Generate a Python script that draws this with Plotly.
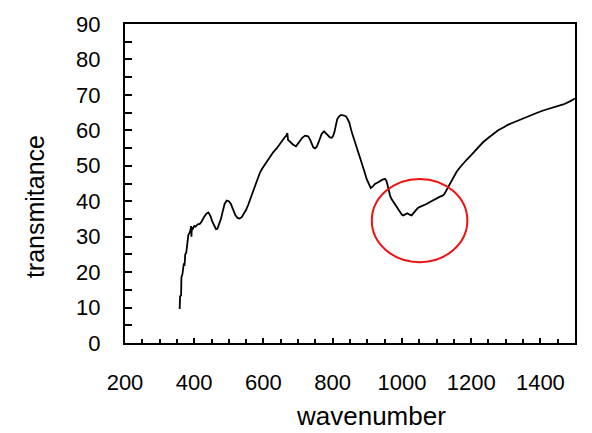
import plotly.graph_objects as go

wavenumber = [358, 359, 362, 363, 366, 370, 372, 374, 377, 380, 383, 386, 389, 391, 392, 393, 396, 400, 404, 410,
              416, 421, 428, 435, 441, 447, 452, 458, 463, 467, 472, 477, 482, 488, 494, 500, 506, 513, 519, 525,
              531, 537, 543, 550, 556, 563, 571, 580, 590, 597, 604, 611, 619, 628, 638, 646, 653, 658, 662, 666,
              669, 671, 677, 685, 694, 700, 705, 712, 720, 729, 735, 739, 744, 749, 754, 758, 763, 768, 775, 781,
              787, 792, 797, 801, 805, 809, 813, 818, 823, 828, 833, 838, 843, 848, 855, 862, 869, 876, 884, 891,
              898, 904, 910, 916, 922, 930, 937, 944, 951, 955, 958, 962, 966, 970, 975, 980, 985, 989, 995, 1000,
              1004, 1010, 1016, 1022, 1028, 1034, 1041, 1046, 1052, 1060, 1071, 1081, 1091, 1100, 1110, 1116, 1122, 1128, 1134, 1141,
              1148, 1158, 1168, 1178, 1187, 1200, 1211, 1223, 1235, 1250, 1264, 1278, 1293, 1307, 1322, 1336, 1351, 1370, 1389, 1408,
              1428, 1447, 1466, 1484, 1500]
transmitance = [9.6, 13.2, 13.4, 18.5, 19.5, 22.5, 21.8, 25.0, 25.5, 29.4, 30.5, 31.0, 31.8, 33.0, 30.0, 32.6, 32.2, 33.0, 32.8, 33.5,
                33.6, 34.2, 35.5, 36.5, 36.8, 35.8, 34.3, 32.8, 32.1, 32.2, 33.5, 35.0, 37.0, 39.3, 40.2, 40.0, 39.2, 37.6, 36.0, 35.3,
                35.1, 35.5, 36.4, 37.6, 39.0, 40.8, 43.0, 45.2, 48.1, 49.3, 50.4, 51.4, 52.6, 53.8, 54.9, 56.0, 57.1, 57.6, 58.1, 58.5,
                59.2, 57.3, 56.7, 56.0, 55.5, 56.3, 57.2, 57.9, 58.5, 58.3, 57.3, 56.3, 55.2, 54.9, 55.4, 56.3, 57.8, 59.0, 59.7, 59.1,
                58.5, 58.0, 57.9, 58.4, 59.5, 61.5, 63.1, 63.9, 64.3, 64.3, 64.2, 64.0, 63.2, 62.2, 59.5, 57.5, 55.4, 53.2, 50.8, 48.6,
                46.3, 44.8, 43.7, 44.2, 44.9, 45.3, 45.8, 46.1, 46.3, 45.8, 44.8, 43.0, 41.5, 40.6, 39.8, 39.0, 38.3, 37.6, 36.8, 36.2,
                36.0, 36.3, 36.6, 36.2, 36.0, 36.7, 37.6, 38.1, 38.4, 38.7, 39.2, 39.8, 40.4, 40.9, 41.3, 41.5, 41.9, 43.0, 44.0, 45.4,
                46.7, 48.3, 49.6, 50.8, 51.7, 53.0, 54.2, 55.5, 56.7, 57.9, 59.0, 60.0, 60.8, 61.6, 62.2, 62.8, 63.4, 64.2, 64.9, 65.6,
                66.2, 66.7, 67.3, 68.1, 69.0]

x_range = [200, 1500]
y_range = [0, 90]
x_tickvals = [200, 400, 600, 800, 1000, 1200, 1400]
y_tickvals = [0, 10, 20, 30, 40, 50, 60, 70, 80, 90]
highlight_x = [913, 1189]
highlight_y = [22.8, 46.3]

FONT = "Liberation Sans, Arial, sans-serif"

fig = go.Figure()
fig.add_trace(go.Scatter(x=wavenumber, y=transmitance, mode="lines",
                         line=dict(color="black", width=1.8), showlegend=False))

fig.add_shape(type="circle", xref="x", yref="y",
              x0=highlight_x[0], x1=highlight_x[1], y0=highlight_y[0], y1=highlight_y[1],
              line=dict(color="#ee1111", width=2))

axis_common = dict(showline=True, linecolor="black", linewidth=2, mirror=True,
                   showgrid=False, zeroline=False, ticks="inside", tickcolor="black",
                   tickwidth=1.5, tickfont=dict(family=FONT, size=22, color="black"))

fig.update_xaxes(range=x_range, tickvals=x_tickvals, ticklen=5, ticklabelstandoff=19,
                 minor=dict(dtick=50, tick0=200, ticks="inside", ticklen=4, tickcolor="black", tickwidth=1.5),
                 **axis_common)
fig.update_yaxes(range=y_range, tickvals=y_tickvals, ticklen=7, ticklabelstandoff=18,
                 minor=dict(dtick=5, tick0=0, ticks="inside", ticklen=7, tickcolor="black", tickwidth=1.5),
                 **axis_common)

fig.add_annotation(text="wavenumber", xref="paper", yref="paper", x=0.546, y=-0.228,
                   xanchor="center", yanchor="middle", showarrow=False,
                   font=dict(family=FONT, size=26, color="black"))
fig.add_annotation(text="transmitance", xref="paper", yref="paper", x=-0.2, y=0.426,
                   xanchor="center", yanchor="middle", showarrow=False, textangle=-90,
                   font=dict(family=FONT, size=25, color="black"))

fig.update_layout(width=592, height=433, margin=dict(l=125, r=17, t=13, b=90),
                  paper_bgcolor="white", plot_bgcolor="white")

fig.write_html("out.html")
